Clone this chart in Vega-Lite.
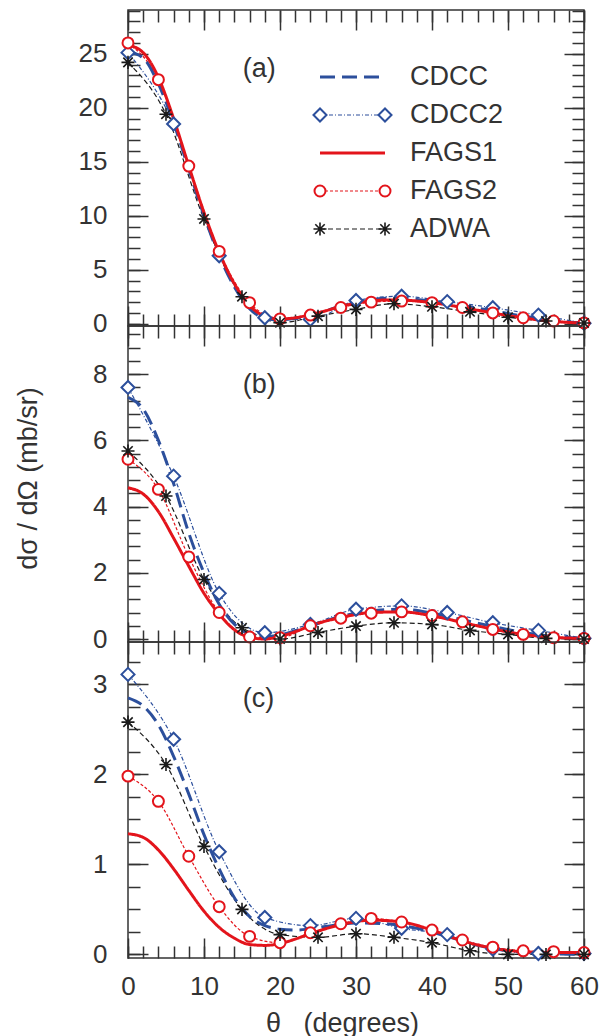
{
"$schema": "https://vega.github.io/schema/vega-lite/v6.json",
"padding": {"left": 13, "top": 8, "right": 5, "bottom": 5},
"spacing": 0,
"bounds": "flush",
"config": {
 "view": {"stroke": "#333", "strokeWidth": 1.5},
 "axis": {"domain": false, "grid": false, "tickColor": "#333", "tickWidth": 1.5, "labelFont": "Liberation Sans", "labelFontSize": 26, "labelColor": "#333", "labelOverlap": false, "labelFlush": false, "titleFont": "Liberation Sans", "titleFontSize": 27, "titleFontWeight": "normal", "titleColor": "#333", "minExtent": 0, "maxExtent": 400}
},
"datasets": {
 "leg": [
  {"s":"CDCC","end":0},{"s":"CDCC","end":1},
  {"s":"CDCC2","end":0},{"s":"CDCC2","end":1},
  {"s":"FAGS1","end":0},{"s":"FAGS1","end":1},
  {"s":"FAGS2","end":0},{"s":"FAGS2","end":1},
  {"s":"ADWA","end":0},{"s":"ADWA","end":1}
 ],
 "d": [
  {"p":"a","s":"CDCC","x":0,"y":25.2},{"p":"a","s":"CDCC","x":2,"y":24.6},{"p":"a","s":"CDCC","x":4,"y":22.2},{"p":"a","s":"CDCC","x":6,"y":18.6},{"p":"a","s":"CDCC","x":8,"y":14.3},{"p":"a","s":"CDCC","x":10,"y":10.0},{"p":"a","s":"CDCC","x":12,"y":6.3},{"p":"a","s":"CDCC","x":14,"y":3.4},{"p":"a","s":"CDCC","x":16,"y":1.4},{"p":"a","s":"CDCC","x":18,"y":0.5},{"p":"a","s":"CDCC","x":20,"y":0.35},{"p":"a","s":"CDCC","x":22,"y":0.5},{"p":"a","s":"CDCC","x":24,"y":0.8},{"p":"a","s":"CDCC","x":26,"y":1.2},{"p":"a","s":"CDCC","x":28,"y":1.65},{"p":"a","s":"CDCC","x":30,"y":2.0},{"p":"a","s":"CDCC","x":32,"y":2.2},{"p":"a","s":"CDCC","x":34,"y":2.35},{"p":"a","s":"CDCC","x":36,"y":2.35},{"p":"a","s":"CDCC","x":38,"y":2.25},{"p":"a","s":"CDCC","x":40,"y":2.1},{"p":"a","s":"CDCC","x":42,"y":1.9},{"p":"a","s":"CDCC","x":44,"y":1.7},{"p":"a","s":"CDCC","x":46,"y":1.45},{"p":"a","s":"CDCC","x":48,"y":1.2},{"p":"a","s":"CDCC","x":50,"y":0.95},{"p":"a","s":"CDCC","x":52,"y":0.7},{"p":"a","s":"CDCC","x":54,"y":0.5},{"p":"a","s":"CDCC","x":56,"y":0.3},{"p":"a","s":"CDCC","x":58,"y":0.15},{"p":"a","s":"CDCC","x":60,"y":0.05},
  {"p":"a","s":"FAGS1","x":0,"y":25.8},{"p":"a","s":"FAGS1","x":2,"y":25.1},{"p":"a","s":"FAGS1","x":4,"y":22.8},{"p":"a","s":"FAGS1","x":6,"y":19.0},{"p":"a","s":"FAGS1","x":8,"y":14.6},{"p":"a","s":"FAGS1","x":10,"y":10.3},{"p":"a","s":"FAGS1","x":12,"y":6.6},{"p":"a","s":"FAGS1","x":14,"y":3.7},{"p":"a","s":"FAGS1","x":16,"y":1.7},{"p":"a","s":"FAGS1","x":18,"y":0.7},{"p":"a","s":"FAGS1","x":20,"y":0.45},{"p":"a","s":"FAGS1","x":22,"y":0.55},{"p":"a","s":"FAGS1","x":24,"y":0.85},{"p":"a","s":"FAGS1","x":26,"y":1.2},{"p":"a","s":"FAGS1","x":28,"y":1.6},{"p":"a","s":"FAGS1","x":30,"y":1.9},{"p":"a","s":"FAGS1","x":32,"y":2.1},{"p":"a","s":"FAGS1","x":34,"y":2.2},{"p":"a","s":"FAGS1","x":36,"y":2.2},{"p":"a","s":"FAGS1","x":38,"y":2.1},{"p":"a","s":"FAGS1","x":40,"y":1.95},{"p":"a","s":"FAGS1","x":42,"y":1.75},{"p":"a","s":"FAGS1","x":44,"y":1.5},{"p":"a","s":"FAGS1","x":46,"y":1.25},{"p":"a","s":"FAGS1","x":48,"y":1.0},{"p":"a","s":"FAGS1","x":50,"y":0.75},{"p":"a","s":"FAGS1","x":52,"y":0.55},{"p":"a","s":"FAGS1","x":54,"y":0.35},{"p":"a","s":"FAGS1","x":56,"y":0.22},{"p":"a","s":"FAGS1","x":58,"y":0.12},{"p":"a","s":"FAGS1","x":60,"y":0.06},
  {"p":"a","s":"CDCC2","x":0,"y":25.1},{"p":"a","s":"CDCC2","x":6,"y":18.5},{"p":"a","s":"CDCC2","x":12,"y":6.3},{"p":"a","s":"CDCC2","x":18,"y":0.55},{"p":"a","s":"CDCC2","x":24,"y":0.4},{"p":"a","s":"CDCC2","x":30,"y":2.15},{"p":"a","s":"CDCC2","x":36,"y":2.55},{"p":"a","s":"CDCC2","x":42,"y":2.05},{"p":"a","s":"CDCC2","x":48,"y":1.48},{"p":"a","s":"CDCC2","x":54,"y":0.8},{"p":"a","s":"CDCC2","x":60,"y":0.05},
  {"p":"a","s":"FAGS2","x":0,"y":26.0},{"p":"a","s":"FAGS2","x":4,"y":22.6},{"p":"a","s":"FAGS2","x":8,"y":14.6},{"p":"a","s":"FAGS2","x":12,"y":6.7},{"p":"a","s":"FAGS2","x":16,"y":1.95},{"p":"a","s":"FAGS2","x":20,"y":0.45},{"p":"a","s":"FAGS2","x":24,"y":0.8},{"p":"a","s":"FAGS2","x":28,"y":1.5},{"p":"a","s":"FAGS2","x":32,"y":2.0},{"p":"a","s":"FAGS2","x":36,"y":2.1},{"p":"a","s":"FAGS2","x":40,"y":1.95},{"p":"a","s":"FAGS2","x":44,"y":1.5},{"p":"a","s":"FAGS2","x":48,"y":1.0},{"p":"a","s":"FAGS2","x":52,"y":0.55},{"p":"a","s":"FAGS2","x":56,"y":0.25},{"p":"a","s":"FAGS2","x":60,"y":0.08},
  {"p":"a","s":"ADWA","x":0,"y":24.2},{"p":"a","s":"ADWA","x":5,"y":19.4},{"p":"a","s":"ADWA","x":10,"y":9.7},{"p":"a","s":"ADWA","x":15,"y":2.5},{"p":"a","s":"ADWA","x":20,"y":0.1},{"p":"a","s":"ADWA","x":25,"y":0.7},{"p":"a","s":"ADWA","x":30,"y":1.33},{"p":"a","s":"ADWA","x":35,"y":1.85},{"p":"a","s":"ADWA","x":40,"y":1.57},{"p":"a","s":"ADWA","x":45,"y":1.1},{"p":"a","s":"ADWA","x":50,"y":0.6},{"p":"a","s":"ADWA","x":55,"y":0.25},{"p":"a","s":"ADWA","x":60,"y":0.07},

  {"p":"b","s":"CDCC","x":0,"y":7.3},{"p":"b","s":"CDCC","x":2,"y":6.95},{"p":"b","s":"CDCC","x":4,"y":6.0},{"p":"b","s":"CDCC","x":6,"y":4.7},{"p":"b","s":"CDCC","x":8,"y":3.2},{"p":"b","s":"CDCC","x":10,"y":2.0},{"p":"b","s":"CDCC","x":12,"y":1.05},{"p":"b","s":"CDCC","x":14,"y":0.45},{"p":"b","s":"CDCC","x":16,"y":0.15},{"p":"b","s":"CDCC","x":18,"y":0.08},{"p":"b","s":"CDCC","x":20,"y":0.12},{"p":"b","s":"CDCC","x":22,"y":0.25},{"p":"b","s":"CDCC","x":24,"y":0.4},{"p":"b","s":"CDCC","x":28,"y":0.68},{"p":"b","s":"CDCC","x":32,"y":0.85},{"p":"b","s":"CDCC","x":36,"y":0.9},{"p":"b","s":"CDCC","x":40,"y":0.78},{"p":"b","s":"CDCC","x":44,"y":0.58},{"p":"b","s":"CDCC","x":48,"y":0.38},{"p":"b","s":"CDCC","x":52,"y":0.2},{"p":"b","s":"CDCC","x":56,"y":0.08},{"p":"b","s":"CDCC","x":60,"y":0.02},
  {"p":"b","s":"FAGS1","x":0,"y":4.57},{"p":"b","s":"FAGS1","x":2,"y":4.38},{"p":"b","s":"FAGS1","x":4,"y":3.85},{"p":"b","s":"FAGS1","x":6,"y":3.05},{"p":"b","s":"FAGS1","x":8,"y":2.2},{"p":"b","s":"FAGS1","x":10,"y":1.38},{"p":"b","s":"FAGS1","x":12,"y":0.75},{"p":"b","s":"FAGS1","x":14,"y":0.28},{"p":"b","s":"FAGS1","x":16,"y":0.05},{"p":"b","s":"FAGS1","x":18,"y":0.0},{"p":"b","s":"FAGS1","x":20,"y":0.08},{"p":"b","s":"FAGS1","x":22,"y":0.22},{"p":"b","s":"FAGS1","x":24,"y":0.4},{"p":"b","s":"FAGS1","x":28,"y":0.65},{"p":"b","s":"FAGS1","x":32,"y":0.8},{"p":"b","s":"FAGS1","x":36,"y":0.82},{"p":"b","s":"FAGS1","x":40,"y":0.7},{"p":"b","s":"FAGS1","x":44,"y":0.5},{"p":"b","s":"FAGS1","x":48,"y":0.3},{"p":"b","s":"FAGS1","x":52,"y":0.14},{"p":"b","s":"FAGS1","x":56,"y":0.05},{"p":"b","s":"FAGS1","x":60,"y":0.02},
  {"p":"b","s":"CDCC2","x":0,"y":7.6},{"p":"b","s":"CDCC2","x":6,"y":4.92},{"p":"b","s":"CDCC2","x":12,"y":1.38},{"p":"b","s":"CDCC2","x":18,"y":0.19},{"p":"b","s":"CDCC2","x":24,"y":0.44},{"p":"b","s":"CDCC2","x":30,"y":0.9},{"p":"b","s":"CDCC2","x":36,"y":1.0},{"p":"b","s":"CDCC2","x":42,"y":0.8},{"p":"b","s":"CDCC2","x":48,"y":0.49},{"p":"b","s":"CDCC2","x":54,"y":0.26},{"p":"b","s":"CDCC2","x":60,"y":0.02},
  {"p":"b","s":"FAGS2","x":0,"y":5.43},{"p":"b","s":"FAGS2","x":4,"y":4.52},{"p":"b","s":"FAGS2","x":8,"y":2.48},{"p":"b","s":"FAGS2","x":12,"y":0.8},{"p":"b","s":"FAGS2","x":16,"y":0.06},{"p":"b","s":"FAGS2","x":20,"y":0.04},{"p":"b","s":"FAGS2","x":24,"y":0.4},{"p":"b","s":"FAGS2","x":28,"y":0.63},{"p":"b","s":"FAGS2","x":32,"y":0.78},{"p":"b","s":"FAGS2","x":36,"y":0.82},{"p":"b","s":"FAGS2","x":40,"y":0.71},{"p":"b","s":"FAGS2","x":44,"y":0.52},{"p":"b","s":"FAGS2","x":48,"y":0.29},{"p":"b","s":"FAGS2","x":52,"y":0.14},{"p":"b","s":"FAGS2","x":56,"y":0.04},{"p":"b","s":"FAGS2","x":60,"y":0.02},
  {"p":"b","s":"ADWA","x":0,"y":5.68},{"p":"b","s":"ADWA","x":5,"y":4.32},{"p":"b","s":"ADWA","x":10,"y":1.8},{"p":"b","s":"ADWA","x":15,"y":0.34},{"p":"b","s":"ADWA","x":20,"y":0.0},{"p":"b","s":"ADWA","x":25,"y":0.2},{"p":"b","s":"ADWA","x":30,"y":0.39},{"p":"b","s":"ADWA","x":35,"y":0.49},{"p":"b","s":"ADWA","x":40,"y":0.44},{"p":"b","s":"ADWA","x":45,"y":0.26},{"p":"b","s":"ADWA","x":50,"y":0.14},{"p":"b","s":"ADWA","x":55,"y":0.02},{"p":"b","s":"ADWA","x":60,"y":0.0},

  {"p":"c","s":"CDCC","x":0,"y":2.85},{"p":"c","s":"CDCC","x":2,"y":2.76},{"p":"c","s":"CDCC","x":4,"y":2.55},{"p":"c","s":"CDCC","x":6,"y":2.2},{"p":"c","s":"CDCC","x":8,"y":1.78},{"p":"c","s":"CDCC","x":10,"y":1.33},{"p":"c","s":"CDCC","x":12,"y":0.95},{"p":"c","s":"CDCC","x":14,"y":0.63},{"p":"c","s":"CDCC","x":16,"y":0.42},{"p":"c","s":"CDCC","x":18,"y":0.32},{"p":"c","s":"CDCC","x":20,"y":0.28},{"p":"c","s":"CDCC","x":22,"y":0.27},{"p":"c","s":"CDCC","x":26,"y":0.31},{"p":"c","s":"CDCC","x":30,"y":0.35},{"p":"c","s":"CDCC","x":34,"y":0.34},{"p":"c","s":"CDCC","x":38,"y":0.29},{"p":"c","s":"CDCC","x":42,"y":0.2},{"p":"c","s":"CDCC","x":46,"y":0.1},{"p":"c","s":"CDCC","x":50,"y":0.04},{"p":"c","s":"CDCC","x":55,"y":0.01},{"p":"c","s":"CDCC","x":60,"y":0.0},
  {"p":"c","s":"FAGS1","x":0,"y":1.34},{"p":"c","s":"FAGS1","x":2,"y":1.3},{"p":"c","s":"FAGS1","x":4,"y":1.16},{"p":"c","s":"FAGS1","x":6,"y":0.95},{"p":"c","s":"FAGS1","x":8,"y":0.71},{"p":"c","s":"FAGS1","x":10,"y":0.48},{"p":"c","s":"FAGS1","x":12,"y":0.3},{"p":"c","s":"FAGS1","x":14,"y":0.18},{"p":"c","s":"FAGS1","x":16,"y":0.11},{"p":"c","s":"FAGS1","x":18,"y":0.1},{"p":"c","s":"FAGS1","x":20,"y":0.12},{"p":"c","s":"FAGS1","x":22,"y":0.17},{"p":"c","s":"FAGS1","x":24,"y":0.23},{"p":"c","s":"FAGS1","x":28,"y":0.33},{"p":"c","s":"FAGS1","x":32,"y":0.38},{"p":"c","s":"FAGS1","x":36,"y":0.36},{"p":"c","s":"FAGS1","x":40,"y":0.27},{"p":"c","s":"FAGS1","x":44,"y":0.15},{"p":"c","s":"FAGS1","x":48,"y":0.07},{"p":"c","s":"FAGS1","x":52,"y":0.03},{"p":"c","s":"FAGS1","x":56,"y":0.02},{"p":"c","s":"FAGS1","x":60,"y":0.02},
  {"p":"c","s":"CDCC2","x":0,"y":3.11},{"p":"c","s":"CDCC2","x":6,"y":2.39},{"p":"c","s":"CDCC2","x":12,"y":1.14},{"p":"c","s":"CDCC2","x":18,"y":0.41},{"p":"c","s":"CDCC2","x":24,"y":0.32},{"p":"c","s":"CDCC2","x":30,"y":0.4},{"p":"c","s":"CDCC2","x":36,"y":0.29},{"p":"c","s":"CDCC2","x":42,"y":0.22},{"p":"c","s":"CDCC2","x":48,"y":0.06},{"p":"c","s":"CDCC2","x":54,"y":0.01},{"p":"c","s":"CDCC2","x":60,"y":0.01},
  {"p":"c","s":"FAGS2","x":0,"y":1.98},{"p":"c","s":"FAGS2","x":4,"y":1.7},{"p":"c","s":"FAGS2","x":8,"y":1.09},{"p":"c","s":"FAGS2","x":12,"y":0.53},{"p":"c","s":"FAGS2","x":16,"y":0.2},{"p":"c","s":"FAGS2","x":20,"y":0.13},{"p":"c","s":"FAGS2","x":24,"y":0.24},{"p":"c","s":"FAGS2","x":28,"y":0.34},{"p":"c","s":"FAGS2","x":32,"y":0.4},{"p":"c","s":"FAGS2","x":36,"y":0.36},{"p":"c","s":"FAGS2","x":40,"y":0.27},{"p":"c","s":"FAGS2","x":44,"y":0.16},{"p":"c","s":"FAGS2","x":48,"y":0.08},{"p":"c","s":"FAGS2","x":52,"y":0.04},{"p":"c","s":"FAGS2","x":56,"y":0.03},{"p":"c","s":"FAGS2","x":60,"y":0.02},
  {"p":"c","s":"ADWA","x":0,"y":2.58},{"p":"c","s":"ADWA","x":5,"y":2.11},{"p":"c","s":"ADWA","x":10,"y":1.2},{"p":"c","s":"ADWA","x":15,"y":0.5},{"p":"c","s":"ADWA","x":20,"y":0.22},{"p":"c","s":"ADWA","x":25,"y":0.19},{"p":"c","s":"ADWA","x":30,"y":0.23},{"p":"c","s":"ADWA","x":35,"y":0.19},{"p":"c","s":"ADWA","x":40,"y":0.13},{"p":"c","s":"ADWA","x":45,"y":0.04},{"p":"c","s":"ADWA","x":50,"y":0.0},{"p":"c","s":"ADWA","x":55,"y":0.0},{"p":"c","s":"ADWA","x":60,"y":0.0}
 ]
},
"vconcat": [
 {
  "width": 456, "height": 316,
  "resolve": {"scale": {"x": "independent", "y": "independent"}, "axis": {"x": "independent", "y": "independent"}},
  "layer": [
   {"data": {"name": "d"}, "transform": [{"filter": "datum.p==='a' && (datum.s==='CDCC2' || datum.s==='FAGS2' || datum.s==='ADWA')"}],
    "mark": {"type": "line", "interpolate": "monotone", "strokeWidth": 1.2},
    "encoding": {
     "x": {"field": "x", "type": "quantitative", "scale": {"domain": [0, 60], "nice": false, "zero": false}, "axis": null},
     "y": {"field": "y", "type": "quantitative", "scale": {"domain": [-0.21, 29.05], "nice": false, "zero": false}, "axis": {"orient": "left", "values": [0,5,10,15,20,25], "ticks": false, "tickSize": 0, "labelPadding": 21, "title": null}},
     "color": {"field": "s", "type": "nominal", "scale": {"domain": ["CDCC","CDCC2","FAGS1","FAGS2","ADWA"], "range": ["#2c4f9c","#2c4f9c","#e3141b","#e3141b","#1a1a1a"]}, "legend": null},
     "strokeDash": {"field": "s", "type": "nominal", "scale": {"domain": ["CDCC","CDCC2","FAGS1","FAGS2","ADWA"], "range": [[15,7],[4,2,1,2],[1,0],[3,2],[5,3]]}, "legend": null}
    }},
   {"data": {"name": "d"}, "transform": [{"filter": "datum.p==='a' && (datum.s==='CDCC' || datum.s==='FAGS1')"}],
    "mark": {"type": "line", "interpolate": "monotone", "strokeWidth": 3},
    "encoding": {
     "x": {"field": "x", "type": "quantitative", "scale": {"domain": [0, 60], "nice": false, "zero": false}, "axis": {"orient": "bottom", "values": [0,10,20,30,40,50,60], "tickSize": -20, "labels": false, "title": null}},
     "y": {"field": "y", "type": "quantitative", "scale": {"domain": [-0.21, 29.05], "nice": false, "zero": false}, "axis": {"orient": "left", "values": [0,5,10,15,20,25], "tickSize": -20, "labels": false, "title": null}},
     "color": {"field": "s", "type": "nominal", "legend": null},
     "strokeDash": {"field": "s", "type": "nominal", "legend": null}
    }},
   {"data": {"name": "d"}, "transform": [{"filter": "datum.p==='a' && datum.s==='CDCC2'"}],
    "mark": {"type": "point", "shape": "diamond", "size": 170, "filled": true, "fill": "white", "stroke": "#2c4f9c", "strokeWidth": 2, "opacity": 1},
    "encoding": {
     "x": {"field": "x", "type": "quantitative", "scale": {"domain": [0, 60], "nice": false, "zero": false}, "axis": {"orient": "bottom", "values": [0,2,4,6,8,10,12,14,16,18,20,22,24,26,28,30,32,34,36,38,40,42,44,46,48,50,52,54,56,58,60], "tickSize": -12, "labels": false, "title": null}},
     "y": {"field": "y", "type": "quantitative", "scale": {"domain": [-0.21, 29.05], "nice": false, "zero": false}, "axis": {"orient": "left", "values": [0,1,2,3,4,5,6,7,8,9,10,11,12,13,14,15,16,17,18,19,20,21,22,23,24,25,26,27,28,29], "tickSize": -12, "labels": false, "title": null}}
    }},
   {"data": {"name": "d"}, "transform": [{"filter": "datum.p==='a' && datum.s==='FAGS2'"}],
    "mark": {"type": "point", "shape": "circle", "size": 120, "filled": true, "fill": "white", "stroke": "#e3141b", "strokeWidth": 2, "opacity": 1},
    "encoding": {
     "x": {"field": "x", "type": "quantitative", "scale": {"domain": [0, 60], "nice": false, "zero": false}, "axis": {"orient": "top", "values": [0,10,20,30,40,50,60], "tickSize": -20, "labels": false, "title": null}},
     "y": {"field": "y", "type": "quantitative", "scale": {"domain": [-0.21, 29.05], "nice": false, "zero": false}, "axis": {"orient": "right", "values": [0,5,10,15,20,25], "tickSize": -20, "labels": false, "title": null}}
    }},
   {"data": {"name": "d"}, "transform": [{"filter": "datum.p==='a' && datum.s==='ADWA'"}],
    "mark": {"type": "point", "shape": "M-1,0L1,0M0,-1L0,1M-0.72,-0.72L0.72,0.72M-0.72,0.72L0.72,-0.72", "size": 170, "filled": false, "stroke": "#1a1a1a", "strokeWidth": 1.6, "opacity": 1},
    "encoding": {
     "x": {"field": "x", "type": "quantitative", "scale": {"domain": [0, 60], "nice": false, "zero": false}, "axis": {"orient": "top", "values": [0,2,4,6,8,10,12,14,16,18,20,22,24,26,28,30,32,34,36,38,40,42,44,46,48,50,52,54,56,58,60], "tickSize": -12, "labels": false, "title": null}},
     "y": {"field": "y", "type": "quantitative", "scale": {"domain": [-0.21, 29.05], "nice": false, "zero": false}, "axis": {"orient": "right", "values": [0,1,2,3,4,5,6,7,8,9,10,11,12,13,14,15,16,17,18,19,20,21,22,23,24,25,26,27,28,29], "tickSize": -12, "labels": false, "title": null}}
    }},
   {"data": {"values": [{}]},
    "mark": {"type": "text", "align": "left", "baseline": "middle", "font": "Liberation Sans", "fontSize": 27, "fill": "#333"},
    "encoding": {
     "x": {"datum": 15.1, "type": "quantitative", "scale": {"domain": [0, 60], "nice": false, "zero": false}, "axis": null},
     "y": {"datum": 23.6, "type": "quantitative", "scale": {"domain": [-0.21, 29.05], "nice": false, "zero": false}, "axis": null},
     "text": {"value": "(a)"}
    }},
   {"data": {"name": "leg"}, "transform": [{"filter": "datum.s==='CDCC' || datum.s==='FAGS1'"}],
    "mark": {"type": "line", "strokeWidth": 3},
    "encoding": {
     "x": {"field": "end", "type": "quantitative", "scale": {"domain": [0, 1], "range": [192, 257], "nice": false, "zero": false}, "axis": null},
     "y": {"field": "s", "type": "nominal", "scale": {"type": "point", "domain": ["CDCC","CDCC2","FAGS1","FAGS2","ADWA"], "range": [67, 219], "padding": 0}, "axis": null},
     "color": {"field": "s", "type": "nominal", "legend": null},
     "strokeDash": {"field": "s", "type": "nominal", "legend": null}
    }},
   {"data": {"name": "leg"}, "transform": [{"filter": "datum.s==='CDCC2' || datum.s==='FAGS2' || datum.s==='ADWA'"}],
    "mark": {"type": "line", "strokeWidth": 1.2},
    "encoding": {
     "x": {"field": "end", "type": "quantitative", "scale": {"domain": [0, 1], "range": [192, 257], "nice": false, "zero": false}, "axis": null},
     "y": {"field": "s", "type": "nominal", "scale": {"type": "point", "domain": ["CDCC","CDCC2","FAGS1","FAGS2","ADWA"], "range": [67, 219], "padding": 0}, "axis": null},
     "color": {"field": "s", "type": "nominal", "legend": null},
     "strokeDash": {"field": "s", "type": "nominal", "legend": null}
    }},
   {"data": {"name": "leg"}, "transform": [{"filter": "datum.s==='CDCC2'"}],
    "mark": {"type": "point", "shape": "diamond", "size": 170, "filled": true, "fill": "white", "stroke": "#2c4f9c", "strokeWidth": 2, "opacity": 1},
    "encoding": {
     "x": {"field": "end", "type": "quantitative", "scale": {"domain": [0, 1], "range": [192, 257], "nice": false, "zero": false}, "axis": null},
     "y": {"field": "s", "type": "nominal", "scale": {"type": "point", "domain": ["CDCC","CDCC2","FAGS1","FAGS2","ADWA"], "range": [67, 219], "padding": 0}, "axis": null}
    }},
   {"data": {"name": "leg"}, "transform": [{"filter": "datum.s==='FAGS2'"}],
    "mark": {"type": "point", "shape": "circle", "size": 120, "filled": true, "fill": "white", "stroke": "#e3141b", "strokeWidth": 2, "opacity": 1},
    "encoding": {
     "x": {"field": "end", "type": "quantitative", "scale": {"domain": [0, 1], "range": [192, 257], "nice": false, "zero": false}, "axis": null},
     "y": {"field": "s", "type": "nominal", "scale": {"type": "point", "domain": ["CDCC","CDCC2","FAGS1","FAGS2","ADWA"], "range": [67, 219], "padding": 0}, "axis": null}
    }},
   {"data": {"name": "leg"}, "transform": [{"filter": "datum.s==='ADWA'"}],
    "mark": {"type": "point", "shape": "M-1,0L1,0M0,-1L0,1M-0.72,-0.72L0.72,0.72M-0.72,0.72L0.72,-0.72", "size": 170, "filled": false, "stroke": "#1a1a1a", "strokeWidth": 1.6, "opacity": 1},
    "encoding": {
     "x": {"field": "end", "type": "quantitative", "scale": {"domain": [0, 1], "range": [192, 257], "nice": false, "zero": false}, "axis": null},
     "y": {"field": "s", "type": "nominal", "scale": {"type": "point", "domain": ["CDCC","CDCC2","FAGS1","FAGS2","ADWA"], "range": [67, 219], "padding": 0}, "axis": null}
    }},
   {"data": {"name": "leg"}, "transform": [{"filter": "datum.end===1"}],
    "mark": {"type": "text", "align": "left", "baseline": "middle", "dx": 25, "font": "Liberation Sans", "fontSize": 27, "fill": "#333"},
    "encoding": {
     "x": {"field": "end", "type": "quantitative", "scale": {"domain": [0, 1], "range": [192, 257], "nice": false, "zero": false}, "axis": null},
     "y": {"field": "s", "type": "nominal", "scale": {"type": "point", "domain": ["CDCC","CDCC2","FAGS1","FAGS2","ADWA"], "range": [67, 219], "padding": 0}, "axis": null},
     "text": {"field": "s"}
    }}
  ]
 },
 {
  "width": 456, "height": 316,
  "resolve": {"axis": {"x": "independent", "y": "independent"}},
  "layer": [
   {"data": {"name": "d"}, "transform": [{"filter": "datum.p==='b' && (datum.s==='CDCC2' || datum.s==='FAGS2' || datum.s==='ADWA')"}],
    "mark": {"type": "line", "interpolate": "monotone", "strokeWidth": 1.2},
    "encoding": {
     "x": {"field": "x", "type": "quantitative", "scale": {"domain": [0, 60], "nice": false, "zero": false}, "axis": null},
     "y": {"field": "y", "type": "quantitative", "scale": {"domain": [-0.09, 9.456], "nice": false, "zero": false}, "axis": {"orient": "left", "values": [0,2,4,6,8], "ticks": false, "tickSize": 0, "labelPadding": 21, "title": "dσ / dΩ (mb/sr)", "titleX": -86, "titleY": 152}},
     "color": {"field": "s", "type": "nominal", "scale": {"domain": ["CDCC","CDCC2","FAGS1","FAGS2","ADWA"], "range": ["#2c4f9c","#2c4f9c","#e3141b","#e3141b","#1a1a1a"]}, "legend": null},
     "strokeDash": {"field": "s", "type": "nominal", "scale": {"domain": ["CDCC","CDCC2","FAGS1","FAGS2","ADWA"], "range": [[15,7],[4,2,1,2],[1,0],[3,2],[5,3]]}, "legend": null}
    }},
   {"data": {"name": "d"}, "transform": [{"filter": "datum.p==='b' && (datum.s==='CDCC' || datum.s==='FAGS1')"}],
    "mark": {"type": "line", "interpolate": "monotone", "strokeWidth": 3},
    "encoding": {
     "x": {"field": "x", "type": "quantitative", "axis": {"orient": "bottom", "values": [0,10,20,30,40,50,60], "tickSize": -20, "labels": false, "title": null}},
     "y": {"field": "y", "type": "quantitative", "axis": {"orient": "left", "values": [0,2,4,6,8], "tickSize": -20, "labels": false, "title": null}},
     "color": {"field": "s", "type": "nominal", "legend": null},
     "strokeDash": {"field": "s", "type": "nominal", "legend": null}
    }},
   {"data": {"name": "d"}, "transform": [{"filter": "datum.p==='b' && datum.s==='CDCC2'"}],
    "mark": {"type": "point", "shape": "diamond", "size": 170, "filled": true, "fill": "white", "stroke": "#2c4f9c", "strokeWidth": 2, "opacity": 1},
    "encoding": {
     "x": {"field": "x", "type": "quantitative", "axis": {"orient": "bottom", "values": [0,2,4,6,8,10,12,14,16,18,20,22,24,26,28,30,32,34,36,38,40,42,44,46,48,50,52,54,56,58,60], "tickSize": -12, "labels": false, "title": null}},
     "y": {"field": "y", "type": "quantitative", "axis": {"orient": "left", "values": [0,0.4,0.8,1.2,1.6,2,2.4,2.8,3.2,3.6,4,4.4,4.8,5.2,5.6,6,6.4,6.8,7.2,7.6,8,8.4,8.8,9.2], "tickSize": -12, "labels": false, "title": null}}
    }},
   {"data": {"name": "d"}, "transform": [{"filter": "datum.p==='b' && datum.s==='FAGS2'"}],
    "mark": {"type": "point", "shape": "circle", "size": 120, "filled": true, "fill": "white", "stroke": "#e3141b", "strokeWidth": 2, "opacity": 1},
    "encoding": {
     "x": {"field": "x", "type": "quantitative", "axis": {"orient": "top", "values": [0,10,20,30,40,50,60], "tickSize": -20, "labels": false, "title": null}},
     "y": {"field": "y", "type": "quantitative", "axis": {"orient": "right", "values": [0,2,4,6,8], "tickSize": -20, "labels": false, "title": null}}
    }},
   {"data": {"name": "d"}, "transform": [{"filter": "datum.p==='b' && datum.s==='ADWA'"}],
    "mark": {"type": "point", "shape": "M-1,0L1,0M0,-1L0,1M-0.72,-0.72L0.72,0.72M-0.72,0.72L0.72,-0.72", "size": 170, "filled": false, "stroke": "#1a1a1a", "strokeWidth": 1.6, "opacity": 1},
    "encoding": {
     "x": {"field": "x", "type": "quantitative", "axis": {"orient": "top", "values": [0,2,4,6,8,10,12,14,16,18,20,22,24,26,28,30,32,34,36,38,40,42,44,46,48,50,52,54,56,58,60], "tickSize": -12, "labels": false, "title": null}},
     "y": {"field": "y", "type": "quantitative", "axis": {"orient": "right", "values": [0,0.4,0.8,1.2,1.6,2,2.4,2.8,3.2,3.6,4,4.4,4.8,5.2,5.6,6,6.4,6.8,7.2,7.6,8,8.4,8.8,9.2], "tickSize": -12, "labels": false, "title": null}}
    }},
   {"data": {"values": [{}]},
    "mark": {"type": "text", "align": "left", "baseline": "middle", "font": "Liberation Sans", "fontSize": 27, "fill": "#333"},
    "encoding": {
     "x": {"datum": 15.1, "type": "quantitative", "axis": null},
     "y": {"datum": 7.67, "type": "quantitative", "axis": null},
     "text": {"value": "(b)"}
    }}
  ]
 },
 {
  "width": 456, "height": 316,
  "resolve": {"axis": {"x": "independent", "y": "independent"}},
  "layer": [
   {"data": {"name": "d"}, "transform": [{"filter": "datum.p==='c' && (datum.s==='CDCC2' || datum.s==='FAGS2' || datum.s==='ADWA')"}],
    "mark": {"type": "line", "interpolate": "monotone", "strokeWidth": 1.2},
    "encoding": {
     "x": {"field": "x", "type": "quantitative", "scale": {"domain": [0, 60], "nice": false, "zero": false}, "axis": {"orient": "bottom", "values": [0,10,20,30,40,50,60], "ticks": false, "tickSize": 0, "labelPadding": 15, "title": "θ\u00a0\u00a0\u00a0(degrees)", "titlePadding": 11, "titleX": 214}},
     "y": {"field": "y", "type": "quantitative", "scale": {"domain": [-0.04, 3.47], "nice": false, "zero": false}, "axis": {"orient": "left", "values": [0,1,2,3], "ticks": false, "tickSize": 0, "labelPadding": 21, "title": null}},
     "color": {"field": "s", "type": "nominal", "scale": {"domain": ["CDCC","CDCC2","FAGS1","FAGS2","ADWA"], "range": ["#2c4f9c","#2c4f9c","#e3141b","#e3141b","#1a1a1a"]}, "legend": null},
     "strokeDash": {"field": "s", "type": "nominal", "scale": {"domain": ["CDCC","CDCC2","FAGS1","FAGS2","ADWA"], "range": [[15,7],[4,2,1,2],[1,0],[3,2],[5,3]]}, "legend": null}
    }},
   {"data": {"name": "d"}, "transform": [{"filter": "datum.p==='c' && (datum.s==='CDCC' || datum.s==='FAGS1')"}],
    "mark": {"type": "line", "interpolate": "monotone", "strokeWidth": 3},
    "encoding": {
     "x": {"field": "x", "type": "quantitative", "axis": {"orient": "bottom", "values": [0,10,20,30,40,50,60], "tickSize": -20, "labels": false, "title": null}},
     "y": {"field": "y", "type": "quantitative", "axis": {"orient": "left", "values": [0,1,2,3], "tickSize": -20, "labels": false, "title": null}},
     "color": {"field": "s", "type": "nominal", "legend": null},
     "strokeDash": {"field": "s", "type": "nominal", "legend": null}
    }},
   {"data": {"name": "d"}, "transform": [{"filter": "datum.p==='c' && datum.s==='CDCC2'"}],
    "mark": {"type": "point", "shape": "diamond", "size": 170, "filled": true, "fill": "white", "stroke": "#2c4f9c", "strokeWidth": 2, "opacity": 1},
    "encoding": {
     "x": {"field": "x", "type": "quantitative", "axis": {"orient": "bottom", "values": [0,2,4,6,8,10,12,14,16,18,20,22,24,26,28,30,32,34,36,38,40,42,44,46,48,50,52,54,56,58,60], "tickSize": -12, "labels": false, "title": null}},
     "y": {"field": "y", "type": "quantitative", "axis": {"orient": "left", "values": [0,0.25,0.5,0.75,1,1.25,1.5,1.75,2,2.25,2.5,2.75,3,3.25], "tickSize": -12, "labels": false, "title": null}}
    }},
   {"data": {"name": "d"}, "transform": [{"filter": "datum.p==='c' && datum.s==='FAGS2'"}],
    "mark": {"type": "point", "shape": "circle", "size": 120, "filled": true, "fill": "white", "stroke": "#e3141b", "strokeWidth": 2, "opacity": 1},
    "encoding": {
     "x": {"field": "x", "type": "quantitative", "axis": {"orient": "top", "values": [0,10,20,30,40,50,60], "tickSize": -20, "labels": false, "title": null}},
     "y": {"field": "y", "type": "quantitative", "axis": {"orient": "right", "values": [0,1,2,3], "tickSize": -20, "labels": false, "title": null}}
    }},
   {"data": {"name": "d"}, "transform": [{"filter": "datum.p==='c' && datum.s==='ADWA'"}],
    "mark": {"type": "point", "shape": "M-1,0L1,0M0,-1L0,1M-0.72,-0.72L0.72,0.72M-0.72,0.72L0.72,-0.72", "size": 170, "filled": false, "stroke": "#1a1a1a", "strokeWidth": 1.6, "opacity": 1},
    "encoding": {
     "x": {"field": "x", "type": "quantitative", "axis": {"orient": "top", "values": [0,2,4,6,8,10,12,14,16,18,20,22,24,26,28,30,32,34,36,38,40,42,44,46,48,50,52,54,56,58,60], "tickSize": -12, "labels": false, "title": null}},
     "y": {"field": "y", "type": "quantitative", "axis": {"orient": "right", "values": [0,0.25,0.5,0.75,1,1.25,1.5,1.75,2,2.25,2.5,2.75,3,3.25], "tickSize": -12, "labels": false, "title": null}}
    }},
   {"data": {"values": [{}]},
    "mark": {"type": "text", "align": "left", "baseline": "middle", "font": "Liberation Sans", "fontSize": 27, "fill": "#333"},
    "encoding": {
     "x": {"datum": 15.1, "type": "quantitative", "axis": null},
     "y": {"datum": 2.84, "type": "quantitative", "axis": null},
     "text": {"value": "(c)"}
    }}
  ]
 }
]
}
